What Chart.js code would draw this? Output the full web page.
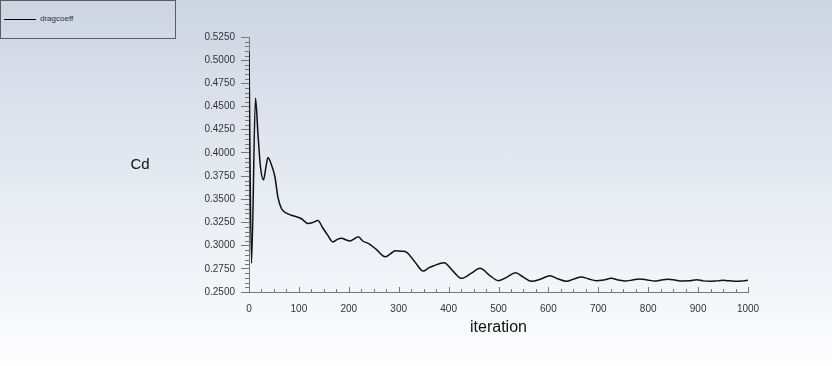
<!DOCTYPE html>
<html lang="en">
  <head>
    <meta charset="UTF-8">
    <title>dragcoeff</title>
    <style>
      html, body { margin: 0; padding: 0; }
      body {
        width: 832px; height: 366px; overflow: hidden; position: relative;
        background: linear-gradient(to bottom, #cdd5e3 0%, #e6eaf2 50%, #fdfdfe 100%);
        font-family: "Liberation Sans", Arial, sans-serif;
      }
      #legend {
        position: absolute; left: 0; top: 0; width: 176px; height: 39px;
        border: 1px solid #5c5c5c; box-sizing: border-box;
      }
      #legend .swatch { position: absolute; left: 3px; top: 18px; width: 32px; height: 1px; background: #000; }
      #legend .txt { position: absolute; left: 39px; top: 13px; font-size: 8px; color: #333; }
      #chart { position: absolute; left: 0; top: 0; }
    </style>
  </head>
  <body>
    <div id="legend"><div class="swatch"></div><div class="txt">dragcoeff</div></div>
    <canvas id="chart" width="832" height="366"></canvas>

    <script src="https://cdn.jsdelivr.net/npm/chart.js"></script>
    <script>
      const iterations = [0, 5, 13, 18, 23, 29, 34, 38, 45, 52, 58, 65, 75, 90, 105, 118, 128, 138, 148, 158,
        168, 178, 186, 195, 202, 210, 219, 228, 239, 255, 273, 283, 293, 305, 316, 333, 349, 360, 369, 391,
        408, 426, 445, 463, 482, 500, 517, 534, 550, 566, 585, 603, 620, 636, 651, 666, 681, 696, 711, 726,
        740, 755, 769, 783, 798, 813, 827, 840, 853, 867, 882, 897, 910, 924, 937, 950, 964, 977, 990, 1000];
      const cdValues = [0.509, 0.281, 0.459, 0.420, 0.385, 0.371, 0.385, 0.395, 0.387, 0.374, 0.352, 0.340, 0.335, 0.332, 0.329, 0.324, 0.325, 0.327, 0.319, 0.311,
        0.304, 0.307, 0.308, 0.306, 0.305, 0.307, 0.3096, 0.305, 0.3024, 0.296, 0.288, 0.291, 0.2945, 0.294, 0.2928, 0.282, 0.2726, 0.276, 0.278, 0.2816,
        0.273, 0.2647, 0.270, 0.2755, 0.268, 0.2622, 0.266, 0.2708, 0.266, 0.2615, 0.264, 0.2676, 0.264, 0.2615, 0.264, 0.2662, 0.264, 0.2622, 0.263, 0.2647,
        0.263, 0.2619, 0.263, 0.264, 0.263, 0.2619, 0.263, 0.2637, 0.263, 0.2619, 0.262, 0.2633, 0.262, 0.2615, 0.262, 0.2626, 0.262, 0.2615, 0.262, 0.2626];
      const xTitle = "iteration";
      const yTitle = "Cd";

      const points = iterations.map((x, i) => ({ x: x, y: cdValues[i] }));

      // inward x ticks, minor ticks and axis titles
      const extras = {
        id: "extras",
        afterDraw(chart) {
          const c = chart.ctx, xs = chart.scales.x, ys = chart.scales.y, a = chart.chartArea;
          c.save();
          c.strokeStyle = "#777";
          c.lineWidth = 1;
          c.beginPath();
          for (let v = 0; v <= 1000; v += 25) {
            const px = Math.round(xs.getPixelForValue(v)) + 0.5;
            const len = v % 100 === 0 ? 5 : 3;
            c.moveTo(px, a.bottom);
            c.lineTo(px, a.bottom - len);
          }
          for (let k = 0; k <= 55; k++) {
            if (k % 5 === 0) continue;
            const py = Math.round(ys.getPixelForValue(0.25 + k * 0.005)) + 0.5;
            c.moveTo(a.left - 4, py);
            c.lineTo(a.left, py);
          }
          c.stroke();
          c.fillStyle = "#111";
          c.textAlign = "center";
          c.textBaseline = "middle";
          c.font = "15px 'Liberation Sans', Arial, sans-serif";
          c.fillText(yTitle, 140, (a.top + a.bottom) / 2);
          c.font = "16px 'Liberation Sans', Arial, sans-serif";
          c.fillText(xTitle, (a.left + a.right) / 2, 328);
          c.restore();
        }
      };

      new Chart(document.getElementById("chart"), {
        type: "line",
        data: {
          datasets: [{
            label: "dragcoeff",
            data: points,
            borderColor: "#111",
            borderWidth: 1.5,
            pointRadius: 0,
            fill: false,
            cubicInterpolationMode: "monotone"
          }]
        },
        options: {
          responsive: false,
          animation: false,
          layout: { padding: { top: 37, right: 84, left: 0, bottom: 0 } },
          plugins: { legend: { display: false }, tooltip: { enabled: false } },
          scales: {
            x: {
              type: "linear", min: 0, max: 1000,
              afterFit(s) { s.height = 74; },
              ticks: { stepSize: 100, color: "#333", padding: 7, maxRotation: 0,
                callback: (v) => String(v),
                font: { family: "'Liberation Sans', Arial, sans-serif", size: 10 } },
              grid: { drawOnChartArea: false, color: "rgba(0,0,0,0)", tickLength: 4 },
              border: { color: "#777" }
            },
            y: {
              min: 0.25, max: 0.525,
              afterFit(s) { s.width = 249; },
              ticks: { stepSize: 0.025, color: "#333", padding: 6,
                callback: (v) => v.toFixed(4),
                font: { family: "'Liberation Sans', Arial, sans-serif", size: 10 } },
              grid: { drawOnChartArea: false, color: "#777", tickLength: 8 },
              border: { color: "#777" }
            }
          }
        },
        plugins: [extras]
      });
    </script>
  </body>
</html>
